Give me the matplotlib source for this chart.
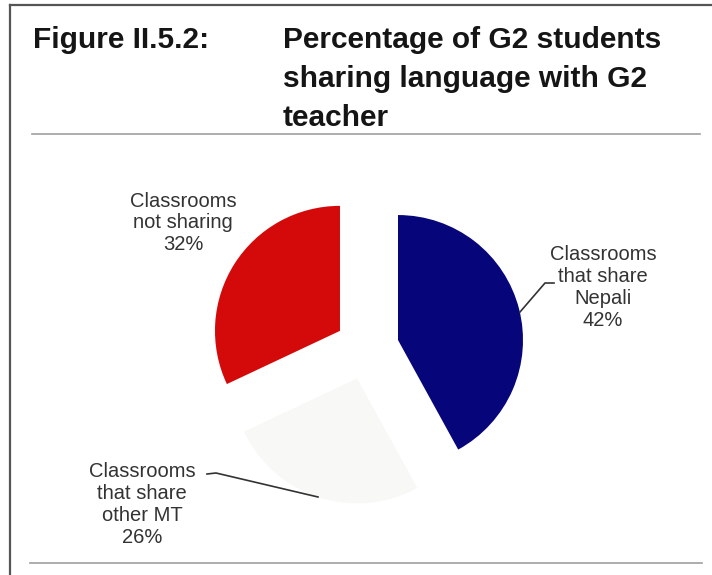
import matplotlib.pyplot as plt
from matplotlib.lines import Line2D

# data
categories = ["Classrooms that share Nepali", "Classrooms that share other MT", "Classrooms not sharing"]
shares = [42, 26, 32]
colors = ["#06067a", "#f8f9f6", "#d40a0a"]
label_texts = ["Classrooms\nthat share\nNepali\n42%",
               "Classrooms\nthat share\nother MT\n26%",
               "Classrooms\nnot sharing\n32%"]
title_left = "Figure II.5.2:"
title_right = "Percentage of G2 students\nsharing language with G2\nteacher"

plt.rcParams['font.family'] = ['Liberation Sans', 'DejaVu Sans']

W, H = 712, 575
fig = plt.figure(figsize=(W / 100, H / 100), dpi=100)
ax = fig.add_axes([0, 0, 1, 1])

# pie in pixel-like data units (y up)
ax.pie(shares, colors=colors, startangle=90, counterclock=False,
       center=(367, 227), radius=125, explode=[32, 32, 32],
       wedgeprops=dict(linewidth=0))
ax.set_xlim(0, W)
ax.set_ylim(0, H)
ax.set_aspect('equal')
ax.axis('off')

# frame and rules
ax.add_line(Line2D([10, 10], [0, 570], color="#555555", lw=1.6))
ax.add_line(Line2D([10, W], [570, 570], color="#555555", lw=1.6))
ax.add_line(Line2D([32, 700], [441, 441], color="#a0a0a0", lw=1.2))
ax.add_line(Line2D([30, 702], [12, 12], color="#a0a0a0", lw=1.2))

# title
ax.text(33, 549, title_left, fontsize=21.5, fontweight='bold', color="#151515",
        ha='left', va='top')
ax.text(283, 549, title_right, fontsize=21.5, fontweight='bold', color="#151515",
        ha='left', va='top', linespacing=1.49)

# labels
txt = dict(fontsize=14.5, color="#333333", ha='center', va='center',
           multialignment='center', linespacing=1.18)
ax.text(603, 287.5, label_texts[0], **txt)
ax.text(142, 70.5, label_texts[1], **txt)
ax.text(183, 352, label_texts[2], **txt)

# leader lines
ax.add_line(Line2D([520, 545, 554], [263, 292, 292], color="#333333", lw=1.2))
ax.add_line(Line2D([207, 216, 318], [101, 102, 78], color="#333333", lw=1.2))

fig.savefig("out.png", dpi=100)
